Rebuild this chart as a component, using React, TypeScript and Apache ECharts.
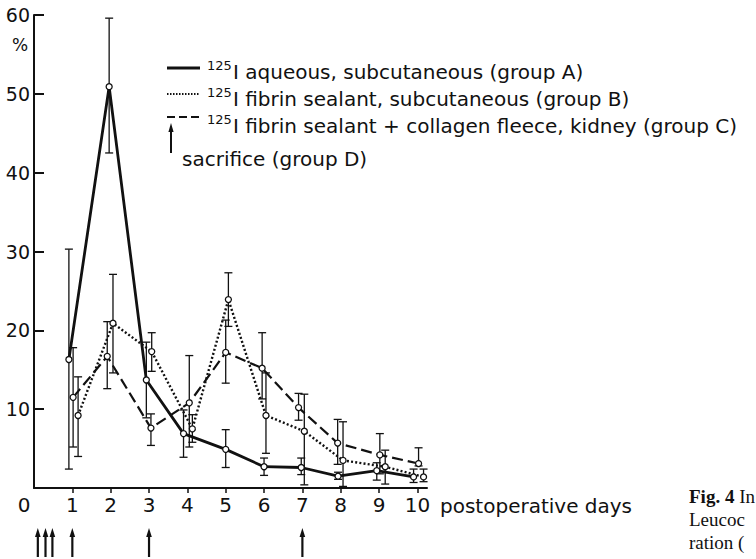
import React, { useEffect, useRef } from "react";
import * as echarts from "echarts";

// ---- data ----
const dayTicks = [1, 2, 3, 4, 5, 6, 7, 8, 9, 10];
const percentTicks = [10, 20, 30, 40, 50, 60];

// group A: 125I aqueous, subcutaneous
const groupADays = [0.91, 1.96, 2.93, 3.9, 5.0, 6.0, 6.97, 7.93, 8.94, 9.9];
const groupAMean = [16.3, 50.9, 13.7, 6.9, 4.9, 2.7, 2.6, 1.5, 2.2, 1.4];
const groupALow = [2.4, 42.5, 8.9, 3.9, 2.6, 1.6, 1.7, 1.1, 1.0, 0.7];
const groupAHigh = [30.3, 59.6, 18.5, 9.9, 7.4, 3.8, 3.8, 2.0, 3.2, 2.4];

// group B: 125I fibrin sealant, subcutaneous
const groupBDays = [1.15, 2.06, 3.07, 4.13, 5.07, 6.05, 7.05, 8.06, 9.16, 10.16];
const groupBMean = [9.2, 20.9, 17.3, 7.5, 23.9, 9.2, 7.2, 3.5, 2.7, 1.4];
const groupBLow = [4.0, 14.6, 14.8, 5.8, 20.5, 4.4, 0.4, 0.2, 0.5, 0.8];
const groupBHigh = [14.1, 27.1, 19.7, 9.3, 27.3, 14.6, 11.9, 8.4, 4.8, 2.4];

// group C: 125I fibrin sealant + collagen fleece, kidney
const groupCDays = [1.02, 1.91, 3.05, 4.05, 5.0, 5.95, 6.9, 7.92, 9.02, 10.03];
const groupCMean = [11.5, 16.7, 7.6, 10.8, 17.2, 15.2, 10.2, 5.7, 4.2, 3.1];
const groupCLow = [5.2, 12.6, 5.4, 5.2, 13.3, 11.3, 8.6, 3.0, 1.8, 2.8];
const groupCHigh = [17.8, 21.1, 9.4, 16.8, 21.3, 19.7, 12.0, 8.7, 6.9, 5.1];

// group D: sacrifice times (days)
const sacrificeDays = [0.1, 0.3, 0.48, 1, 3, 7];

const legendLabels = [
  "I aqueous, subcutaneous (group A)",
  "I fibrin sealant, subcutaneous (group B)",
  "I fibrin sealant + collagen fleece, kidney (group C)",
];
const sacrificeLabel = "sacrifice (group D)";
const isotope = "125";
const xTitle = "postoperative days";
const captionLines = ["{b|Fig. 4} In", "Leucoc", "ration ("];

const FONT = "DejaVu Sans";
const INK = "#111";

const pairs = (xs: number[], ys: number[]) => xs.map((x, i) => [x, ys[i]]);
const triples = (xs: number[], lo: number[], hi: number[]) =>
  xs.map((x, i) => [x, lo[i], hi[i]]);

function errorBarRender(params: any, api: any) {
  const x = api.value(0);
  const pLo = api.coord([x, api.value(1)]);
  const pHi = api.coord([x, api.value(2)]);
  const w = 4;
  const st = { stroke: INK, lineWidth: 1.3 };
  return {
    type: "group",
    children: [
      { type: "line", shape: { x1: pLo[0], y1: pLo[1], x2: pHi[0], y2: pHi[1] }, style: st },
      { type: "line", shape: { x1: pHi[0] - w, y1: pHi[1], x2: pHi[0] + w, y2: pHi[1] }, style: st },
      { type: "line", shape: { x1: pLo[0] - w, y1: pLo[1], x2: pLo[0] + w, y2: pLo[1] }, style: st },
    ],
  };
}

function arrowRender(params: any, api: any) {
  const p = api.coord([api.value(0), 0]);
  const x = p[0];
  const base = p[1];
  return {
    type: "group",
    children: [
      {
        type: "line",
        shape: { x1: x, y1: base + 46, x2: x, y2: base + 69 },
        style: { stroke: INK, lineWidth: 2.2 },
      },
      {
        type: "polygon",
        shape: { points: [[x, base + 40], [x - 2.8, base + 49], [x + 2.8, base + 49]] },
        style: { fill: INK },
      },
    ],
  };
}

const lineSeries = (name: string, data: number[][], type: any, width: number) => ({
  name,
  type: "line",
  data,
  symbol: "circle",
  symbolSize: 6,
  itemStyle: { color: "#fff", borderColor: INK, borderWidth: 1.3 },
  lineStyle: { color: INK, width, type },
  z: 5,
});

const errSeries = (data: number[][]) => ({
  type: "custom",
  renderItem: errorBarRender,
  data,
  clip: false,
  z: 3,
});

export default function App() {
  const ref = useRef<HTMLDivElement>(null);
  useEffect(() => {
    if (!ref.current) return;
    const chart = echarts.init(ref.current, undefined, { renderer: "svg" });
    const legendRows = [72, 99, 126];
    const sampleY = [68, 94, 117];
    chart.setOption({
      animation: false,
      backgroundColor: "#fff",
      textStyle: { fontFamily: FONT, color: INK },
      grid: { left: 34, top: 15, right: 329, bottom: 71, outerBoundsMode: "none" },
      xAxis: {
        type: "value",
        min: 0,
        max: 10.25,
        interval: 1,
        splitLine: { show: false },
        axisLine: { lineStyle: { color: INK, width: 2 } },
        axisTick: { show: true, length: 5, lineStyle: { color: INK, width: 1.5 }, customValues: dayTicks },
        axisLabel: { fontSize: 20, color: INK, fontFamily: FONT, margin: 7, customValues: dayTicks },
      },
      yAxis: {
        type: "value",
        min: 0,
        max: 60,
        interval: 10,
        splitLine: { show: false },
        axisLine: { show: true, lineStyle: { color: INK, width: 2 } },
        axisTick: { show: true, inside: true, length: 10, lineStyle: { color: INK, width: 2 }, customValues: percentTicks },
        axisLabel: { fontSize: 19, color: INK, fontFamily: FONT, margin: 4, customValues: percentTicks },
      },
      series: [
        errSeries(triples(groupADays, groupALow, groupAHigh)),
        errSeries(triples(groupBDays, groupBLow, groupBHigh)),
        errSeries(triples(groupCDays, groupCLow, groupCHigh)),
        lineSeries("group A", pairs(groupADays, groupAMean), "solid", 2.8),
        lineSeries("group B", pairs(groupBDays, groupBMean), [2, 2.2], 2.4),
        lineSeries("group C", pairs(groupCDays, groupCMean), [11, 5], 2.2),
        {
          type: "custom",
          renderItem: arrowRender,
          data: sacrificeDays.map((d) => [d]),
          clip: false,
          z: 4,
        },
      ],
      graphic: [
        { type: "text", left: 12, top: 36, style: { text: "%", fontSize: 17, fontFamily: FONT, fill: INK } },
        { type: "text", x: 24, y: 505, style: { text: "0", fontSize: 20, fontFamily: FONT, fill: INK, align: "center", verticalAlign: "middle" } },
        { type: "text", x: 440, y: 506, style: { text: xTitle, fontSize: 20, fontFamily: FONT, fill: INK, verticalAlign: "middle" } },
        // legend samples
        { type: "line", shape: { x1: 167, y1: sampleY[0], x2: 200, y2: sampleY[0] }, style: { stroke: INK, lineWidth: 2.8 } },
        { type: "line", shape: { x1: 167, y1: sampleY[1], x2: 200, y2: sampleY[1] }, style: { stroke: INK, lineWidth: 2, lineDash: [1.5, 1.5] } },
        { type: "line", shape: { x1: 167, y1: sampleY[2], x2: 200, y2: sampleY[2] }, style: { stroke: INK, lineWidth: 2.2, lineDash: [8, 4] } },
        { type: "line", shape: { x1: 171, y1: 130, x2: 171, y2: 153 }, style: { stroke: INK, lineWidth: 2 } },
        { type: "polygon", shape: { points: [[171, 123], [168.4, 132], [173.6, 132]] }, style: { fill: INK } },
        ...legendRows.flatMap((y, i) => [
          { type: "text", x: 207, y: y - 7, style: { text: isotope, fontSize: 13, fontFamily: FONT, fill: INK, verticalAlign: "middle" } },
          { type: "text", x: 233, y, style: { text: legendLabels[i], fontSize: 20, fontFamily: FONT, fill: INK, verticalAlign: "middle" } },
        ]),
        { type: "text", x: 182, y: 159, style: { text: sacrificeLabel, fontSize: 20, fontFamily: FONT, fill: INK, verticalAlign: "middle" } },
        // cropped caption at the right edge
        ...captionLines.map((t, i) => ({
          type: "text",
          x: 689,
          y: 496 + i * 23,
          style: {
            text: t,
            fontSize: 19,
            fontFamily: "Liberation Serif",
            fill: INK,
            verticalAlign: "middle",
            rich: { b: { fontWeight: "bold", fontSize: 19, fontFamily: "Liberation Serif", fill: INK } },
          },
        })),
      ],
    });
    return () => chart.dispose();
  }, []);
  return (
    <div
      ref={ref}
      style={{ position: "fixed", left: 0, top: 0, width: 756, height: 559, background: "#fff" }}
    />
  );
}
